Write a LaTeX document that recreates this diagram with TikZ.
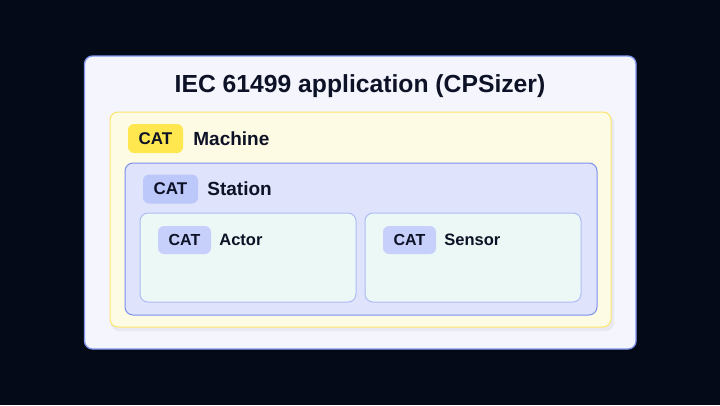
\documentclass[tikz,border=0pt]{standalone}
\usepackage{fontspec}
\setmainfont{Liberation Sans}
\usetikzlibrary{positioning}
\definecolor{bgnavy}{HTML}{050A18}
\definecolor{inkdark}{HTML}{0D1226}
\definecolor{appfill}{HTML}{F4F5FD}
\definecolor{appline}{HTML}{8195EE}
\definecolor{macfill}{HTML}{FEFBE5}
\definecolor{macline}{HTML}{FDE56A}
\definecolor{macbadge}{HTML}{FEE74F}
\definecolor{stafill}{HTML}{DFE3FB}
\definecolor{staline}{HTML}{7C8FEC}
\definecolor{stabadge}{HTML}{BCC7FA}
\definecolor{devfill}{HTML}{ECF8F6}
\definecolor{devline}{HTML}{AEBCF5}
\definecolor{devbadge}{HTML}{C6D0FA}

\begin{document}
\begin{tikzpicture}[x=1pt,y=-1pt,line join=round,
  box/.style={rounded corners=8pt,line width=1pt},
  shade box/.style={rounded corners=8pt,fill=black,fill opacity=0.05},
  badge/.style={rounded corners=6pt,minimum width=55pt,minimum height=29pt,inner sep=0pt,text=inkdark,font=\fontsize{17}{20}\selectfont\bfseries},
  small badge/.style={badge,minimum width=53pt,minimum height=28pt,font=\fontsize{16}{19}\selectfont\bfseries},
  lbl/.style={inner sep=0pt,anchor=west,text=inkdark,font=\fontsize{19}{22}\selectfont\bfseries},
  small lbl/.style={lbl,font=\fontsize{16.5}{20}\selectfont\bfseries}]
\fill[bgnavy] (0,0) rectangle (720,405);
\useasboundingbox (0,0) rectangle (720,405);
% application frame
\fill[shade box] (86,60) rectangle (639,353);
\draw[box,line width=1.3pt,draw=appline,fill=appfill] (84.5,56) rectangle (636,349);
\node[anchor=base,text=inkdark,font=\fontsize{24.7}{30}\selectfont\bfseries] (title) at (360,92) {IEC 61499 application (CPSizer)};
% machine
\fill[shade box] (111,115) rectangle (614,331);
\draw[box,draw=macline,fill=macfill] (110,112) rectangle (611,327);
\node[badge,fill=macbadge] (mbadge) at (155.5,138.5) {CAT};
\node[lbl,right=10pt of mbadge] (mlabel) {Machine};
% station
\draw[box,draw=staline,fill=stafill] (125,163) rectangle (597,315);
\node[badge,fill=stabadge] (sbadge) at (170.5,189) {CAT};
\node[lbl,right=9pt of sbadge] (slabel) {Station};
% actor and sensor
\draw[box,draw=devline,fill=devfill] (140,213) rectangle (356,302);
\draw[box,draw=devline,fill=devfill] (365,213) rectangle (581,302);
\node[small badge,fill=devbadge] (abadge) at (184.5,240) {CAT};
\node[small lbl,right=8pt of abadge] (alabel) {Actor};
\node[small badge,fill=devbadge] (nbadge) at (409.5,240) {CAT};
\node[small lbl,right=8pt of nbadge] (nlabel) {Sensor};
\end{tikzpicture}
\end{document}
